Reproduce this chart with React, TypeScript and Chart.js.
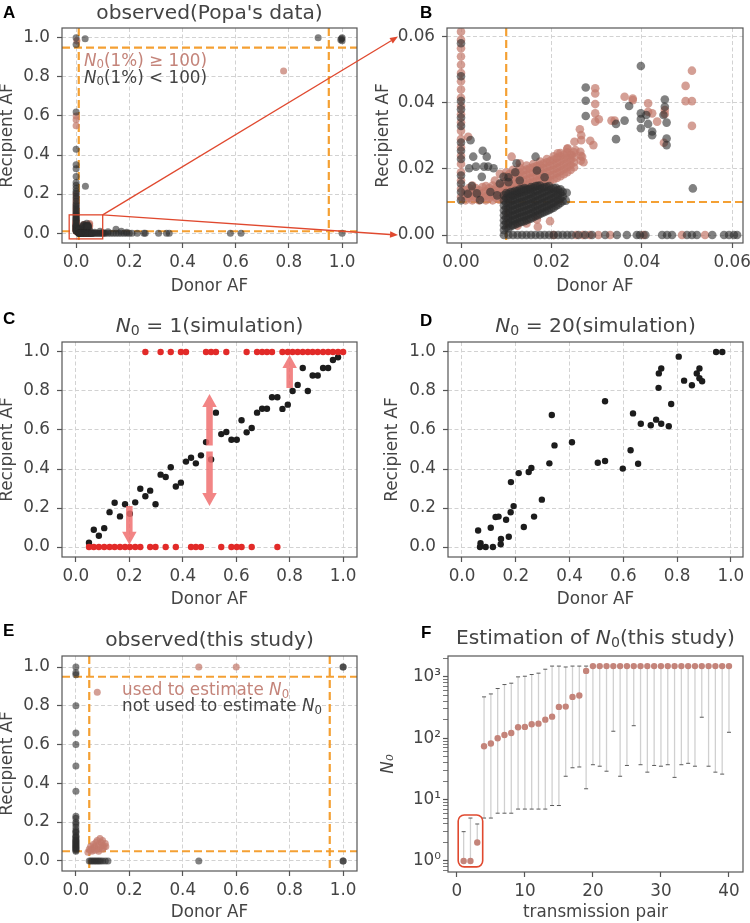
import React, { useEffect, useRef } from 'react';
import { Chart, registerables } from 'chart.js';

Chart.register(...registerables);
Chart.defaults.font.family = "'DejaVu Sans', sans-serif";

// ---------------- tick definitions ----------------
const unitTicks = [0, 0.2, 0.4, 0.6, 0.8, 1.0];
const zoomTicks = [0, 0.02, 0.04, 0.06];
const pairTicks = [0, 10, 20, 30, 40];
const logMajorTicks = [1, 10, 100, 1000];
const logAllTicks = [0.7, 0.8, 0.9, 1, 2, 3, 4, 5, 6, 7, 8, 9, 10, 20, 30, 40, 50, 60, 70, 80, 90, 100, 200, 300, 400, 500, 600, 700, 800, 900, 1000, 2000];
const logLabels: Record<number, string> = { 1: '10\u2070', 10: '10\u00b9', 100: '10\u00b2', 1000: '10\u00b3' };

// ---------------- Popa's data (panels A & B) ----------------
const popaDarkColumnY = [0.0105, 0.013, 0.0155, 0.018, 0.023, 0.0255, 0.028, 0.033, 0.0355, 0.038, 0.0405, 0.048, 0.058, 0.065, 0.07, 0.075, 0.08, 0.088, 0.095, 0.1, 0.11, 0.12, 0.13, 0.14, 0.15, 0.165, 0.18, 0.19, 0.205, 0.215, 0.23, 0.245, 0.26, 0.29, 0.33, 0.35, 0.43, 0.62, 0.965, 1.0];
const popaPinkColumnY = [0.0115, 0.014, 0.0165, 0.019, 0.0215, 0.024, 0.0265, 0.029, 0.0315, 0.034, 0.0365, 0.039, 0.0415, 0.044, 0.0465, 0.049, 0.0515, 0.054, 0.0565, 0.059, 0.0615, 0.068, 0.078, 0.09, 0.105, 0.115, 0.125, 0.135, 0.15, 0.16, 0.175, 0.2, 0.55, 0.58, 0.6];
const popaDarkClusterCols: [number, number[]][] = [
  [0.0095, [0.0015, 0.003, 0.0045, 0.006, 0.0075, 0.009, 0.0105, 0.012]],
  [0.01, [0.0022, 0.0037, 0.0052, 0.0067, 0.0082, 0.0097, 0.0112, 0.0127]],
  [0.0105, [0.002, 0.0035, 0.005, 0.0065, 0.008, 0.0095, 0.011, 0.0125]],
  [0.011, [0.0027, 0.0042, 0.0057, 0.0072, 0.0087, 0.0102, 0.0117, 0.013]],
  [0.0115, [0.003, 0.0045, 0.006, 0.0075, 0.009, 0.0105, 0.012, 0.013]],
  [0.012, [0.0032, 0.0047, 0.0062, 0.0077, 0.0092, 0.0107, 0.0122, 0.0134]],
  [0.0125, [0.0035, 0.005, 0.0065, 0.008, 0.0095, 0.011, 0.0125, 0.0133]],
  [0.013, [0.0038, 0.0053, 0.0068, 0.0083, 0.0098, 0.0113, 0.0128, 0.0138]],
  [0.0135, [0.004, 0.0055, 0.007, 0.0085, 0.01, 0.0115, 0.013, 0.0138]],
  [0.014, [0.0042, 0.0057, 0.0072, 0.0087, 0.0102, 0.0117, 0.0132, 0.0142]],
  [0.0145, [0.0045, 0.006, 0.0075, 0.009, 0.0105, 0.012, 0.0135, 0.014]],
  [0.015, [0.0048, 0.0063, 0.0078, 0.0093, 0.0108, 0.0123, 0.0138]],
  [0.0155, [0.005, 0.0065, 0.008, 0.0095, 0.011, 0.0125, 0.0138, 0.0145]],
  [0.016, [0.0054, 0.0069, 0.0084, 0.0099, 0.0114, 0.0129, 0.0144]],
  [0.0165, [0.0058, 0.0073, 0.0088, 0.0103, 0.0118, 0.0133, 0.0148]],
  [0.017, [0.006, 0.0075, 0.009, 0.0105, 0.012, 0.0135, 0.0149]],
  [0.0175, [0.0064, 0.0079, 0.0094, 0.0109, 0.0124, 0.0139, 0.015]],
  [0.018, [0.0067, 0.0082, 0.0097, 0.0112, 0.0127, 0.0142]],
  [0.0185, [0.007, 0.0085, 0.01, 0.0115, 0.013, 0.0145]],
  [0.019, [0.0073, 0.0088, 0.0103, 0.0118, 0.0133, 0.0146]],
  [0.0195, [0.0076, 0.0091, 0.0106, 0.0121, 0.0136, 0.0148]],
  [0.02, [0.008, 0.0095, 0.011, 0.0125, 0.014]],
  [0.0205, [0.0083, 0.0098, 0.0113, 0.0128, 0.0142]],
  [0.021, [0.0088, 0.0103, 0.0118, 0.0133, 0.0143]],
  [0.0215, [0.0092, 0.0107, 0.0122, 0.0137]],
  [0.022, [0.0097, 0.0112, 0.0127, 0.0138]],
  [0.0225, [0.0102, 0.0117, 0.0131]],
];
const popaPinkBandCols: [number, number[]][] = [
  [0.001, [0.0105, 0.012, 0.0135]],
  [0.00175, [0.0112, 0.0127, 0.0142]],
  [0.0025, [0.0105, 0.0118, 0.0132, 0.015]],
  [0.00325, [0.0112, 0.0127, 0.0142]],
  [0.004, [0.0105, 0.012, 0.0135]],
  [0.00475, [0.0112, 0.0127, 0.0145]],
  [0.0055, [0.0105, 0.0118, 0.0133, 0.0148]],
  [0.00625, [0.0112, 0.0127, 0.0142]],
  [0.007, [0.0105, 0.012, 0.0135, 0.015]],
  [0.00775, [0.0112, 0.0127, 0.0143]],
  [0.0085, [0.0107, 0.0122, 0.0137, 0.0152]],
  [0.00925, [0.0113, 0.0128, 0.0145, 0.016]],
  [0.01, [0.0118, 0.0133, 0.0148, 0.0163, 0.0178, 0.019]],
  [0.01075, [0.0125, 0.014, 0.0155, 0.017, 0.0185]],
  [0.0115, [0.0125, 0.014, 0.0155, 0.017, 0.0185, 0.0197]],
  [0.01225, [0.013, 0.0145, 0.016, 0.0175, 0.019]],
  [0.013, [0.013, 0.0145, 0.016, 0.0175, 0.019, 0.0203]],
  [0.01375, [0.0135, 0.015, 0.0165, 0.018, 0.0195]],
  [0.0145, [0.0138, 0.0153, 0.0168, 0.0183, 0.0198, 0.021]],
  [0.01525, [0.0142, 0.0157, 0.0172, 0.0187, 0.0202]],
  [0.016, [0.0145, 0.016, 0.0175, 0.019, 0.0205, 0.0215]],
  [0.01675, [0.0149, 0.0164, 0.0179, 0.0194, 0.0209]],
  [0.0175, [0.0152, 0.0167, 0.0182, 0.0197, 0.0212, 0.0222]],
  [0.01825, [0.0156, 0.0171, 0.0186, 0.0201, 0.0216]],
  [0.019, [0.016, 0.0175, 0.019, 0.0205, 0.022, 0.023]],
  [0.01975, [0.0164, 0.0179, 0.0194, 0.0209, 0.0224]],
  [0.0205, [0.0168, 0.0183, 0.0198, 0.0213, 0.0228, 0.0238]],
  [0.02125, [0.0173, 0.0188, 0.0203, 0.0218, 0.0233]],
  [0.022, [0.0178, 0.0193, 0.0208, 0.0223, 0.0238, 0.0248]],
  [0.02275, [0.0184, 0.0199, 0.0214, 0.0229, 0.0243]],
  [0.0235, [0.019, 0.0205, 0.022, 0.0235, 0.025, 0.026]],
  [0.02425, [0.0197, 0.0212, 0.0227, 0.0242]],
  [0.025, [0.0205, 0.022, 0.0235, 0.025]],
  [0.0265, [0.0225, 0.024]],
];
const popaDarkScatter: [number, number][] = [
  [0.0027, 0.0237], [0.0018, 0.0202], [0.0033, 0.0207], [0.0048, 0.0255], [0.0051, 0.0207], [0.0046, 0.0176],
  [0.006, 0.0207], [0.0072, 0.0202], [0.0057, 0.0237], [0.0024, 0.0148], [0.0035, 0.0126], [0.0042, 0.0106],
  [0.0086, 0.0156], [0.0094, 0.0176], [0.0021, 0.0287], [0.0065, 0.013], [0.008, 0.012], [0.0015, 0.0125],
  [0.0105, 0.0175], [0.0123, 0.0217], [0.0165, 0.0237], [0.0168, 0.0195], [0.013, 0.0165], [0.0185, 0.0175],
  [0.0105, 0.016], [0.0234, 0.0128], [0.0232, 0.0104], [0.012, 0.019],
  [0.0276, 0.0446], [0.0276, 0.0406], [0.0276, 0.036], [0.0343, 0.0336], [0.0343, 0.029], [0.0362, 0.0346],
  [0.0372, 0.039], [0.0398, 0.0511], [0.0398, 0.0368], [0.0398, 0.0351], [0.0398, 0.0323], [0.041, 0.0363],
  [0.0414, 0.0336], [0.0423, 0.0313], [0.0423, 0.0302], [0.0451, 0.041], [0.0451, 0.0388], [0.0448, 0.0363],
  [0.0455, 0.0292], [0.0455, 0.0272], [0.0455, 0.034], [0.0513, 0.0141],
];
const popaPinkScatter: [number, number][] = [
  [0.0016, 0.0297], [0.0112, 0.0237], [0.013, 0.0217], [0.0125, 0.0028], [0.0168, 0.0047], [0.0197, 0.0042],
  [0.017, 0.0025], [0.0145, 0.0035], [0.0236, 0.0262], [0.0245, 0.0242], [0.0253, 0.0257], [0.0214, 0.0247],
  [0.0268, 0.0237], [0.0271, 0.022], [0.0264, 0.0252], [0.0251, 0.0282], [0.0086, 0.0185], [0.0075, 0.0165],
  [0.0297, 0.0444], [0.0297, 0.0428], [0.0297, 0.0396], [0.0297, 0.0368], [0.0297, 0.0343], [0.0305, 0.035],
  [0.0266, 0.0302], [0.0266, 0.0287], [0.0286, 0.0285], [0.0293, 0.0272], [0.0263, 0.032], [0.0333, 0.0346],
  [0.034, 0.0346], [0.0362, 0.0418], [0.038, 0.0413], [0.038, 0.0408], [0.0414, 0.0398], [0.0414, 0.0373],
  [0.0423, 0.0368], [0.0451, 0.0378], [0.0451, 0.0366], [0.0449, 0.0279], [0.0434, 0.0343], [0.0497, 0.0451],
  [0.0497, 0.0405], [0.0511, 0.0497], [0.0511, 0.0405], [0.0511, 0.033],
];
const popaDarkRowX = [0.0095, 0.0105, 0.0115, 0.0125, 0.0135, 0.0145, 0.0155, 0.0165, 0.0175, 0.0185, 0.0195, 0.0205, 0.0215, 0.0225, 0.0235, 0.0245, 0.026, 0.0275, 0.029, 0.0319, 0.0345, 0.0367, 0.0389, 0.0396, 0.0408, 0.0445, 0.0456, 0.0467, 0.05, 0.0511, 0.0522, 0.0556, 0.0582, 0.0593, 0.0604, 0.0611, 0.065, 0.07, 0.075, 0.08, 0.085, 0.09, 0.095, 0.1, 0.105, 0.11, 0.12, 0.13, 0.14, 0.15, 0.16, 0.17, 0.18, 0.19, 0.2, 0.21, 0.23, 0.255, 0.26, 0.31, 0.34, 0.35, 0.58, 0.62, 1.0];
const popaPinkRowX = [0.0205, 0.0255, 0.027, 0.0285, 0.0304, 0.033, 0.0404, 0.0489, 0.054];
const popaDarkOther: [number, number][] = [
  [0.034, 0.995], [0.035, 0.24], [0.91, 1.0], [0.995, 0.99], [1.0, 1.0], [0.998, 0.995], [1.0, 0.985],
  [0.15, 0.02], [0.17, 0.01], [0.12, 0.008], [0.19, 0.005], [0.07, 0.005], [0.09, 0.01], [0.1, 0.004],
];
const popaPinkOther: [number, number][] = [[0.78, 0.83], [0.003, 0.985]];

// ---------------- simulation N0 = 1 (panel C) ----------------
const cDonorAF = [0.049, 0.067, 0.086, 0.106, 0.126, 0.145, 0.165, 0.184, 0.202, 0.222, 0.241, 0.26, 0.278, 0.298, 0.317, 0.336, 0.355, 0.374, 0.393, 0.412, 0.431, 0.449, 0.468, 0.487, 0.506, 0.524, 0.544, 0.563, 0.582, 0.602, 0.62, 0.639, 0.658, 0.678, 0.697, 0.715, 0.734, 0.754, 0.773, 0.793, 0.811, 0.83, 0.849, 0.868, 0.886, 0.905, 0.925, 0.944, 0.962, 0.981];
const cRecipientAF = [0.022, 0.089, 0.058, 0.097, 0.179, 0.227, 0.157, 0.219, 0.171, 0.229, 0.299, 0.26, 0.289, 0.219, 0.371, 0.359, 0.409, 0.31, 0.33, 0.438, 0.458, 0.429, 0.47, 0.538, 0.449, 0.689, 0.579, 0.59, 0.55, 0.55, 0.65, 0.588, 0.61, 0.689, 0.709, 0.709, 0.768, 0.768, 0.708, 0.73, 0.8, 0.831, 0.918, 0.8, 0.879, 0.879, 0.918, 0.918, 0.959, 0.973];
const cFixedDonorAF = [0.26, 0.317, 0.355, 0.393, 0.412, 0.487, 0.506, 0.524, 0.563, 0.639, 0.678, 0.697, 0.715, 0.734, 0.773, 0.793, 0.811, 0.83, 0.849, 0.868, 0.886, 0.905, 0.925, 0.944, 0.962, 0.981, 1.0];
const cLostDonorAF = [0.049, 0.067, 0.086, 0.106, 0.126, 0.145, 0.165, 0.184, 0.202, 0.222, 0.241, 0.278, 0.298, 0.336, 0.374, 0.431, 0.449, 0.468, 0.544, 0.582, 0.602, 0.62, 0.658, 0.754];
const cArrows = [
  { x: 0.2, from: 0.21, to: 0.012 },
  { x: 0.5, from: 0.52, to: 0.785 },
  { x: 0.5, from: 0.49, to: 0.21 },
  { x: 0.8, from: 0.815, to: 0.985 },
];

// ---------------- simulation N0 = 20 (panel D) ----------------
const dDonorAF = [0.06, 0.069, 0.067, 0.088, 0.107, 0.115, 0.125, 0.136, 0.144, 0.145, 0.164, 0.174, 0.181, 0.182, 0.192, 0.211, 0.23, 0.248, 0.258, 0.268, 0.297, 0.325, 0.334, 0.344, 0.409, 0.505, 0.532, 0.532, 0.598, 0.627, 0.636, 0.655, 0.665, 0.702, 0.722, 0.731, 0.732, 0.741, 0.741, 0.769, 0.778, 0.806, 0.826, 0.855, 0.873, 0.883, 0.883, 0.893, 0.945, 0.968];
const dRecipientAF = [0.085, 0.02, 0.0, 0.0, 0.099, 0.0, 0.154, 0.156, 0.014, 0.041, 0.14, 0.053, 0.178, 0.333, 0.21, 0.379, 0.103, 0.385, 0.405, 0.156, 0.243, 0.429, 0.677, 0.521, 0.537, 0.432, 0.441, 0.747, 0.402, 0.496, 0.685, 0.427, 0.632, 0.624, 0.653, 0.816, 0.89, 0.915, 0.632, 0.619, 0.733, 0.976, 0.853, 0.829, 0.89, 0.915, 0.865, 0.85, 1.0, 1.0];

// ---------------- this study (panel E) ----------------
const eDarkColumnY = [1.0, 0.97, 0.96, 0.8, 0.66, 0.6, 0.49, 0.36, 0.23, 0.22, 0.2, 0.19, 0.175, 0.16, 0.15, 0.145, 0.13, 0.125, 0.12, 0.11, 0.105, 0.1, 0.095, 0.09, 0.085, 0.08, 0.075, 0.07, 0.065, 0.06, 0.055, 0.05];
const eDarkRowX = [0.05, 0.056, 0.062, 0.068, 0.074, 0.08, 0.086, 0.092, 0.1, 0.11, 0.12];
const eDarkOther: [number, number][] = [[1, 1], [1, 1], [1, 0], [1, 0], [0.46, 0]];
const ePinkPoints: [number, number][] = [
  [0.08, 0.87], [0.46, 1], [0.6, 1],
  [0.045, 0.045], [0.05, 0.06], [0.055, 0.075], [0.06, 0.05], [0.065, 0.065], [0.065, 0.085], [0.07, 0.075],
  [0.075, 0.095], [0.08, 0.06], [0.08, 0.105], [0.085, 0.085], [0.09, 0.115], [0.09, 0.07], [0.095, 0.095],
  [0.1, 0.08], [0.1, 0.105], [0.105, 0.07], [0.11, 0.09], [0.112, 0.075], [0.055, 0.055], [0.07, 0.055],
  [0.085, 0.05], [0.1, 0.06],
];

// ---------------- estimation of N0 (panel F) ----------------
const fPair = [1, 2, 3, 4, 5, 6, 7, 8, 9, 10, 11, 12, 13, 14, 15, 16, 17, 18, 19, 20, 21, 22, 23, 24, 25, 26, 27, 28, 29, 30, 31, 32, 33, 34, 35, 36, 37, 38, 39, 40];
const fEstimate = [1, 1, 2, 74, 82, 100, 113, 122, 151, 153, 169, 173, 201, 225, 324, 328, 472, 496, 1253, 1500, 1500, 1500, 1500, 1500, 1500, 1500, 1500, 1500, 1500, 1500, 1500, 1500, 1500, 1500, 1500, 1500, 1500, 1500, 1500, 1500];
const fUpper = [3, 5, 4, 472, 527, 646, 750, 789, 1000, 1025, 1093, 1150, 1333, 1500, 1500, 1450, 1500, 1500, 1500, 1500, 1500, 1500, 1500, 1500, 1500, 1500, 1500, 1500, 1500, 1500, 1500, 1500, 1500, 1500, 1500, 1500, 1500, 1500, 1500, 1500];
const fLower = [1, 1, 2, 5, 5, 6, 6, 6, 7, 7, 7, 7, 7, 8, 8, 24, 33, 34, 15, 37, 35, 29, 130, 24, 36, 160, 37, 28, 36, 35, 37, 23, 37, 39, 35, 220, 35, 28, 26, 125];
const F_HIGHLIGHT = { x0: 0.2, x1: 3.8, y0: 0.8, y1: 5.6 };

// ---------------- annotations ----------------
const A_ZOOM_BOX = { x0: -0.026, x1: 0.1, y0: -0.029, y1: 0.094 };
const B_CONNECT_TO = [0.06, 0.0];
const CONNECTOR_GAP = 49;

// ---------------- styles ----------------
const FS = 16.8;
const TFS = 20.2;
const TEXT = '#444444';
const FRAME = '#555555';
const GRID = '#d2d2d2';
const ORANGE = 'rgba(243,155,40,0.95)';
const PINK = '#c4847a';
const PINK_A = 'rgba(196,122,108,0.72)';
const DARK_A = 'rgba(45,45,45,0.6)';
const RED = '#e0492f';
const SIM_RED = '#e22a28';
const SIM_BLACK = '#1c1c1c';

type Pos = { left: number; top: number; width: number; height: number };
const POS_A: Pos = { left: -2, top: 20, width: 372, height: 277 };
const POS_B: Pos = { left: 374, top: 20, width: 376, height: 277 };
const POS_C: Pos = { left: -2, top: 334, width: 372, height: 276 };
const POS_D: Pos = { left: 383, top: 334, width: 367, height: 276 };
const POS_E: Pos = { left: -2, top: 648, width: 372, height: 275 };
const POS_F: Pos = { left: 379, top: 648, width: 371, height: 275 };

const pts = (arr: [number, number][]) => arr.map(([x, y]) => ({ x, y }));
const fromColumns = (cols: [number, number[]][]) => cols.flatMap(([x, ys]) => ys.map((y) => ({ x, y })));

function axis(kind: 'x' | 'y', o: any) {
  return {
    type: o.type || 'linear',
    position: kind === 'x' ? 'bottom' : 'left',
    min: o.min,
    max: o.max,
    afterBuildTicks: (s: any) => {
      s.ticks = o.ticks.map((v: number) => ({ value: v }));
    },
    afterFit: (s: any) => {
      if (kind === 'x') s.height = o.size;
      else s.width = o.size;
      s.paddingLeft = 0;
      s.paddingRight = 0;
      s.paddingTop = 0;
      s.paddingBottom = 0;
    },
    ticks: {
      callback: (v: number) => o.fmt(v),
      color: TEXT,
      font: { size: FS },
      padding: o.pad,
      autoSkip: false,
      maxRotation: 0,
      minRotation: 0,
    },
    grid: {
      display: true,
      drawOnChartArea: o.grid !== false,
      color: GRID,
      lineWidth: 1,
      tickLength: 5,
      tickColor: FRAME,
      tickWidth: o.tickWidth || 1.2,
    },
    border: { display: false, dash: [4, 2.5] },
    title: {
      display: true,
      text: o.title,
      color: TEXT,
      font: { size: FS, style: o.italic ? 'italic' : 'normal' },
      padding: 0,
    },
  };
}

const framePlugin = {
  id: 'frame',
  afterDatasetsDraw(chart: any) {
    const { ctx, chartArea: a } = chart;
    ctx.save();
    ctx.strokeStyle = FRAME;
    ctx.lineWidth = 1.2;
    ctx.setLineDash([]);
    ctx.strokeRect(a.left, a.top, a.right - a.left, a.bottom - a.top);
    ctx.restore();
  },
};

function refLinesPlugin(xs: number[], ys: number[]) {
  return {
    id: 'refLines',
    beforeDatasetsDraw(chart: any) {
      const { ctx, chartArea: a, scales } = chart;
      ctx.save();
      ctx.beginPath();
      ctx.rect(a.left, a.top, a.right - a.left, a.bottom - a.top);
      ctx.clip();
      ctx.strokeStyle = ORANGE;
      ctx.lineWidth = 2.2;
      ctx.setLineDash([8, 4]);
      xs.forEach((v) => {
        const px = scales.x.getPixelForValue(v);
        ctx.beginPath();
        ctx.moveTo(px, a.top);
        ctx.lineTo(px, a.bottom);
        ctx.stroke();
      });
      ys.forEach((v) => {
        const py = scales.y.getPixelForValue(v);
        ctx.beginPath();
        ctx.moveTo(a.left, py);
        ctx.lineTo(a.right, py);
        ctx.stroke();
      });
      ctx.restore();
    },
  };
}

const zoomBoxPlugin = {
  id: 'zoomBox',
  afterDatasetsDraw(chart: any) {
    const { ctx, scales } = chart;
    const x0 = scales.x.getPixelForValue(A_ZOOM_BOX.x0);
    const x1 = scales.x.getPixelForValue(A_ZOOM_BOX.x1);
    const y0 = scales.y.getPixelForValue(A_ZOOM_BOX.y0);
    const y1 = scales.y.getPixelForValue(A_ZOOM_BOX.y1);
    ctx.save();
    ctx.strokeStyle = RED;
    ctx.lineWidth = 1.3;
    ctx.strokeRect(x0, y1, x1 - x0, y0 - y1);
    ctx.restore();
  },
};

const simArrowsPlugin = {
  id: 'simArrows',
  afterDatasetsDraw(chart: any) {
    const { ctx, scales } = chart;
    ctx.save();
    ctx.fillStyle = 'rgba(240,112,112,0.85)';
    cArrows.forEach((ar) => {
      const x = scales.x.getPixelForValue(ar.x);
      const y0 = scales.y.getPixelForValue(ar.from);
      const y1 = scales.y.getPixelForValue(ar.to);
      const dir = Math.sign(y1 - y0);
      const sw = 6.5;
      const hw = 14.5;
      const hl = 13;
      const hb = y1 - dir * hl;
      ctx.beginPath();
      ctx.moveTo(x - sw / 2, y0);
      ctx.lineTo(x - sw / 2, hb);
      ctx.lineTo(x - hw / 2, hb);
      ctx.lineTo(x, y1);
      ctx.lineTo(x + hw / 2, hb);
      ctx.lineTo(x + sw / 2, hb);
      ctx.lineTo(x + sw / 2, y0);
      ctx.closePath();
      ctx.fill();
    });
    ctx.restore();
  },
};

const errorBarPlugin = {
  id: 'errorBars',
  beforeDatasetsDraw(chart: any) {
    const { ctx, scales } = chart;
    ctx.save();
    fPair.forEach((p, i) => {
      const x = scales.x.getPixelForValue(p);
      const yl = scales.y.getPixelForValue(fLower[i]);
      const yu = scales.y.getPixelForValue(fUpper[i]);
      ctx.strokeStyle = '#d0d0d0';
      ctx.lineWidth = 1.3;
      ctx.beginPath();
      ctx.moveTo(x, yl);
      ctx.lineTo(x, yu);
      ctx.stroke();
      ctx.strokeStyle = '#5a5a5a';
      ctx.lineWidth = 1;
      [yl, yu].forEach((y) => {
        ctx.beginPath();
        ctx.moveTo(x - 2, y);
        ctx.lineTo(x + 2, y);
        ctx.stroke();
      });
    });
    ctx.restore();
  },
};

const highlightPlugin = {
  id: 'highlight',
  afterDatasetsDraw(chart: any) {
    const { ctx, scales } = chart;
    const x0 = scales.x.getPixelForValue(F_HIGHLIGHT.x0);
    const x1 = scales.x.getPixelForValue(F_HIGHLIGHT.x1);
    const y0 = scales.y.getPixelForValue(F_HIGHLIGHT.y0);
    const y1 = scales.y.getPixelForValue(F_HIGHLIGHT.y1);
    ctx.save();
    ctx.strokeStyle = RED;
    ctx.lineWidth = 1.6;
    ctx.beginPath();
    ctx.roundRect(x0, y1, x1 - x0, y0 - y1, 6);
    ctx.stroke();
    ctx.restore();
  },
};

function scatterChart(canvas: HTMLCanvasElement, datasets: any[], scales: any, padding: any, plugins: any[]) {
  return new Chart(canvas, {
    type: 'scatter',
    data: { datasets },
    options: {
      animation: false,
      responsive: false,
      maintainAspectRatio: false,
      events: [],
      layout: { padding },
      plugins: { legend: { display: false }, tooltip: { enabled: false }, title: { display: false } },
      scales,
    } as any,
    plugins: [framePlugin, ...plugins],
  } as any);
}

const ds = (data: any[], color: string, r: number) => ({
  data,
  backgroundColor: color,
  borderWidth: 0,
  pointRadius: r,
  pointHoverRadius: r,
  clip: 0,
});

const f1 = (v: number) => v.toFixed(1);
const f2 = (v: number) => v.toFixed(2);

function drawConnector(ctx: CanvasRenderingContext2D, sx: number, sy: number, tx: number, ty: number) {
  const ang = Math.atan2(ty - sy, tx - sx);
  const hl = 8;
  const hw = 3.2;
  const bx = tx - hl * Math.cos(ang);
  const by = ty - hl * Math.sin(ang);
  ctx.strokeStyle = RED;
  ctx.fillStyle = RED;
  ctx.lineWidth = 1.3;
  ctx.beginPath();
  ctx.moveTo(sx, sy);
  ctx.lineTo(bx, by);
  ctx.stroke();
  ctx.beginPath();
  ctx.moveTo(tx, ty);
  ctx.lineTo(bx + hw * Math.sin(ang), by - hw * Math.cos(ang));
  ctx.lineTo(bx - hw * Math.sin(ang), by + hw * Math.cos(ang));
  ctx.closePath();
  ctx.fill();
}

const N0 = () => (
  <>
    <i>N</i>
    <span style={{ fontSize: '0.7em', position: 'relative', top: '0.22em' }}>0</span>
  </>
);

const canvasStyle = (p: Pos): React.CSSProperties => ({
  position: 'absolute',
  left: p.left,
  top: p.top,
  width: p.width,
  height: p.height,
});

const titleStyle = (left: number, top: number, width: number): React.CSSProperties => ({
  position: 'absolute',
  left,
  top,
  width,
  textAlign: 'center',
  fontSize: TFS,
  lineHeight: '24px',
  color: TEXT,
  whiteSpace: 'nowrap',
});

const letterStyle = (left: number, top: number): React.CSSProperties => ({
  position: 'absolute',
  left,
  top,
  fontFamily: "'Liberation Sans', Arial, sans-serif",
  fontWeight: 'bold',
  fontSize: 17,
  lineHeight: '17px',
  color: '#000',
});

export default function App() {
  const aRef = useRef<HTMLCanvasElement>(null);
  const bRef = useRef<HTMLCanvasElement>(null);
  const cRef = useRef<HTMLCanvasElement>(null);
  const dRef = useRef<HTMLCanvasElement>(null);
  const eRef = useRef<HTMLCanvasElement>(null);
  const fRef = useRef<HTMLCanvasElement>(null);
  const oRef = useRef<HTMLCanvasElement>(null);

  useEffect(() => {
    const popaDark = [
      ...popaDarkColumnY.map((y) => ({ x: 0, y })),
      ...fromColumns(popaDarkClusterCols),
      ...pts(popaDarkScatter),
      ...popaDarkRowX.map((x) => ({ x, y: 0 })),
      ...pts(popaDarkOther),
    ];
    const popaPink = [
      ...popaPinkColumnY.map((y) => ({ x: 0, y })),
      ...fromColumns(popaPinkBandCols),
      ...pts(popaPinkScatter),
      ...popaPinkRowX.map((x) => ({ x, y: 0 })),
      ...pts(popaPinkOther),
    ];

    const chartA = scatterChart(
      aRef.current!,
      [ds(popaDark, DARK_A, 3.5), ds(popaPink, PINK_A, 3.5)],
      {
        x: axis('x', { min: -0.053, max: 1.056, ticks: unitTicks, fmt: f1, title: 'Donor AF', size: 54, pad: 5 }),
        y: axis('y', { min: -0.05, max: 1.05, ticks: unitTicks, fmt: f1, title: 'Recipient AF', size: 64, pad: 7 }),
      },
      { top: 8, right: 13, left: 0, bottom: 0 },
      [refLinesPlugin([0.01, 0.95], [0.01, 0.95]), zoomBoxPlugin],
    );
    const chartB = scatterChart(
      bRef.current!,
      [ds(popaDark, DARK_A, 4.3), ds(popaPink, PINK_A, 4.3)],
      {
        x: axis('x', { min: -0.0031, max: 0.0624, ticks: zoomTicks, fmt: f2, title: 'Donor AF', size: 54, pad: 5 }),
        y: axis('y', { min: -0.0024, max: 0.0626, ticks: zoomTicks, fmt: f2, title: 'Recipient AF', size: 73, pad: 7 }),
      },
      { top: 8, right: 7, left: 0, bottom: 0 },
      [refLinesPlugin([0.01], [0.01])],
    );
    const chartC = scatterChart(
      cRef.current!,
      [
        ds(cFixedDonorAF.map((x) => ({ x, y: 1 })), SIM_RED, 3.2),
        ds(cLostDonorAF.map((x) => ({ x, y: 0 })), SIM_RED, 3.2),
        ds(cDonorAF.map((x, i) => ({ x, y: cRecipientAF[i] })), SIM_BLACK, 3.2),
      ],
      {
        x: axis('x', { min: -0.052, max: 1.052, ticks: unitTicks, fmt: f1, title: 'Donor AF', size: 53, pad: 5 }),
        y: axis('y', { min: -0.051, max: 1.051, ticks: unitTicks, fmt: f1, title: 'Recipient AF', size: 64, pad: 7 }),
      },
      { top: 8, right: 13, left: 0, bottom: 0 },
      [simArrowsPlugin],
    );
    const chartD = scatterChart(
      dRef.current!,
      [ds(dDonorAF.map((x, i) => ({ x, y: dRecipientAF[i] })), SIM_BLACK, 3.2)],
      {
        x: axis('x', { min: -0.052, max: 1.045, ticks: unitTicks, fmt: f1, title: 'Donor AF', size: 53, pad: 5 }),
        y: axis('y', { min: -0.051, max: 1.051, ticks: unitTicks, fmt: f1, title: 'Recipient AF', size: 65, pad: 7 }),
      },
      { top: 8, right: 7, left: 0, bottom: 0 },
      [],
    );
    const chartE = scatterChart(
      eRef.current!,
      [
        ds(pts(ePinkPoints), PINK_A, 3.5),
        ds(
          [...eDarkColumnY.map((y) => ({ x: 0, y })), ...eDarkRowX.map((x) => ({ x, y: 0 })), ...pts(eDarkOther)],
          DARK_A,
          3.5,
        ),
      ],
      {
        x: axis('x', { min: -0.052, max: 1.052, ticks: unitTicks, fmt: f1, title: 'Donor AF', size: 52, pad: 5 }),
        y: axis('y', { min: -0.052, max: 1.057, ticks: unitTicks, fmt: f1, title: 'Recipient AF', size: 64, pad: 7 }),
      },
      { top: 8, right: 13, left: 0, bottom: 0 },
      [refLinesPlugin([0.05, 0.95], [0.05, 0.95])],
    );
    const chartF = scatterChart(
      fRef.current!,
      [ds(fPair.map((x, i) => ({ x, y: fEstimate[i] })), PINK, 3.2)],
      {
        x: axis('x', { min: -1.3, max: 42.06, ticks: pairTicks, fmt: (v: number) => String(v), title: 'transmission pair', size: 51, pad: 5, grid: false }),
        y: axis('y', {
          type: 'logarithmic',
          min: 0.66,
          max: 2190,
          ticks: logAllTicks,
          fmt: (v: number) => logLabels[v] || '',
          title: 'N\u2080',
          italic: true,
          size: 69,
          pad: 2,
          grid: false,
          tickWidth: (ctx: any) => (ctx.tick && logMajorTicks.includes(ctx.tick.value) ? 1.2 : 0.8),
        }),
      },
      { top: 8, right: 7, left: 0, bottom: 0 },
      [errorBarPlugin, highlightPlugin],
    );

    // connectors from A's zoom box to B's axis
    const oc = oRef.current!;
    const octx = oc.getContext('2d')!;
    octx.clearRect(0, 0, oc.width, oc.height);
    const sx = POS_A.left + chartA.scales.x.getPixelForValue(A_ZOOM_BOX.x1);
    const sy = POS_A.top + chartA.scales.y.getPixelForValue(A_ZOOM_BOX.y1);
    const tx = POS_B.left + chartB.chartArea.left - CONNECTOR_GAP;
    B_CONNECT_TO.forEach((v) => {
      const ty = POS_B.top + chartB.scales.y.getPixelForValue(v);
      drawConnector(octx, sx, sy, tx, ty);
    });

    const charts = [chartA, chartB, chartC, chartD, chartE, chartF];
    return () => charts.forEach((c) => c.destroy());
  }, []);

  return (
    <div
      style={{
        position: 'absolute',
        left: 0,
        top: 0,
        width: 750,
        height: 923,
        background: '#fff',
        overflow: 'hidden',
        fontFamily: "'DejaVu Sans', sans-serif",
      }}
    >
      <canvas ref={aRef} width={POS_A.width} height={POS_A.height} style={canvasStyle(POS_A)} />
      <canvas ref={bRef} width={POS_B.width} height={POS_B.height} style={canvasStyle(POS_B)} />
      <canvas ref={cRef} width={POS_C.width} height={POS_C.height} style={canvasStyle(POS_C)} />
      <canvas ref={dRef} width={POS_D.width} height={POS_D.height} style={canvasStyle(POS_D)} />
      <canvas ref={eRef} width={POS_E.width} height={POS_E.height} style={canvasStyle(POS_E)} />
      <canvas ref={fRef} width={POS_F.width} height={POS_F.height} style={canvasStyle(POS_F)} />
      <canvas
        ref={oRef}
        width={750}
        height={923}
        style={{ position: 'absolute', left: 0, top: 0, width: 750, height: 923, pointerEvents: 'none' }}
      />

      <div style={letterStyle(3, 4)}>A</div>
      <div style={letterStyle(420, 4)}>B</div>
      <div style={letterStyle(3, 310)}>C</div>
      <div style={letterStyle(420, 312)}>D</div>
      <div style={letterStyle(3, 622)}>E</div>
      <div style={letterStyle(421, 624)}>F</div>

      <div style={titleStyle(62, 0, 295)}>observed(Popa's data)</div>
      <div style={titleStyle(62, 313, 295)}>
        <N0 /> = 1(simulation)
      </div>
      <div style={titleStyle(448, 313, 295)}>
        <N0 /> = 20(simulation)
      </div>
      <div style={titleStyle(62, 627, 295)}>observed(this study)</div>
      <div style={titleStyle(448, 625, 295)}>
        Estimation of <N0 />(this study)
      </div>

      <div style={{ position: 'absolute', left: 84, top: 52.7, fontSize: FS, lineHeight: '15px', whiteSpace: 'nowrap' }}>
        <div style={{ color: PINK }}>
          <N0 />(1%) ≥ 100)
        </div>
        <div style={{ color: TEXT }}>
          <N0 />(1%) &lt; 100)
        </div>
      </div>
      <div style={{ position: 'absolute', left: 122, top: 682.2, fontSize: FS, lineHeight: '14px', whiteSpace: 'nowrap' }}>
        <div style={{ color: PINK }}>
          used to estimate <N0 />
        </div>
        <div style={{ color: TEXT }}>
          not used to estimate <N0 />
        </div>
      </div>
    </div>
  );
}
